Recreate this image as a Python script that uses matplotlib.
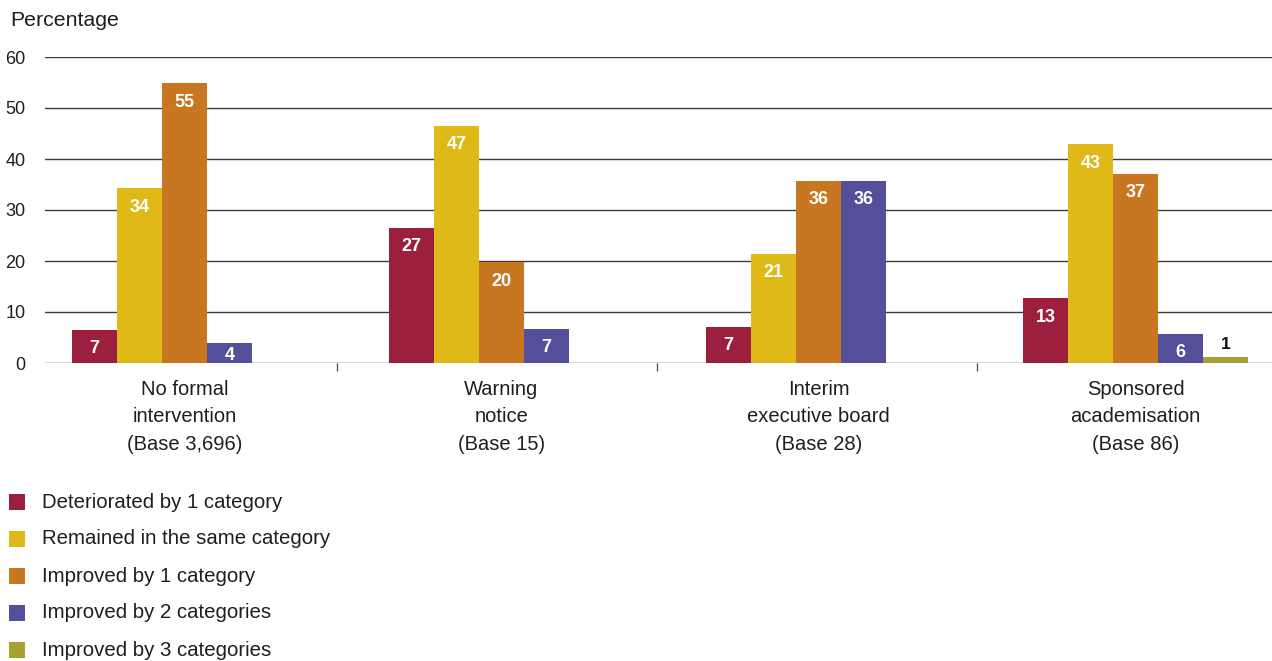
import matplotlib
matplotlib.use("Agg")
import matplotlib.pyplot as plt
from matplotlib.patches import Rectangle
import numpy as np

plt.rcParams['font.family'] = ['Liberation Sans', 'DejaVu Sans']

categories = ["No formal\nintervention\n(Base 3,696)",
              "Warning\nnotice\n(Base 15)",
              "Interim\nexecutive board\n(Base 28)",
              "Sponsored\nacademisation\n(Base 86)"]
series_names = ["Deteriorated by 1 category",
                "Remained in the same category",
                "Improved by 1 category",
                "Improved by 2 categories",
                "Improved by 3 categories"]
deteriorated = [6.5, 26.5, 7.1, 12.7]
remained = [34.3, 46.5, 21.4, 42.9]
improved1 = [54.9, 19.8, 35.7, 37.1]
improved2 = [3.9, 6.7, 35.7, 5.7]
improved3 = [None, None, None, 1.2]
labels_det = ["7", "27", "7", "13"]
labels_rem = ["34", "47", "21", "43"]
labels_imp1 = ["55", "20", "36", "37"]
labels_imp2 = ["4", "7", "36", "6"]
labels_imp3 = [None, None, None, "1"]
colors = ["#9C1F3E", "#DFB917", "#C8761F", "#544F9A", "#A9A033"]

series = [deteriorated, remained, improved1, improved2, improved3]
series_labels = [labels_det, labels_rem, labels_imp1, labels_imp2, labels_imp3]

W, H = 1272, 661
fig = plt.figure(figsize=(W / 100, H / 100), dpi=100)
ax = fig.add_axes([45 / W, 1 - 363 / H, 1227 / W, (363 - 57) / H])

x = np.arange(len(categories))
bw = 0.142
txt = "#1e1e1e"
px_per_unit = (363 - 57) / 60.0

for i, (vals, labs, col) in enumerate(zip(series, series_labels, colors)):
    offs = (i - 2) * bw
    for j, (v, lab) in enumerate(zip(vals, labs)):
        if v is None:
            continue
        ax.bar(x[j] + offs, v, width=bw, color=col, zorder=3, linewidth=0)
        if i == 4:
            ax.text(x[j] + offs, v + 12 / px_per_unit, lab, ha='center', va='center',
                    color='#111111', fontsize=12.5, fontweight='bold', zorder=4)
        else:
            ly = max(v - 19 / px_per_unit, 7 / px_per_unit)
            ax.text(x[j] + offs, ly, lab, ha='center', va='center',
                    color='white', fontsize=13, fontweight='bold', zorder=4)

x0 = (45 - 184.5) / 317.0
ax.set_xlim(x0, x0 + 1227 / 317.0)
ax.set_ylim(0, 60)
ax.set_yticks([0, 10, 20, 30, 40, 50, 60])
ax.yaxis.grid(True, color='#3a3a3a', linewidth=1.0, zorder=1)
for s in ax.spines.values():
    s.set_visible(False)
ax.tick_params(axis='y', length=0, pad=14, labelsize=13, labelcolor=txt)
ax.set_xticks(x)
ax.set_xticklabels(categories, fontsize=14.5, color=txt, linespacing=1.58)
ax.tick_params(axis='x', which='major', length=0, pad=12)
ax.set_xticks([0.48, 1.49, 2.5], minor=True)
ax.tick_params(axis='x', which='minor', length=6, width=1, color='#555555', direction='out')

fig.text(10 / W, 1 - 21 / H, "Percentage", fontsize=15.3, color=txt, va='center', ha='left')

# legend
for k, (name, col) in enumerate(zip(series_names, colors)):
    yc = 502 + 37 * k
    fig.patches.append(Rectangle((9 / W, 1 - (yc + 8) / H), 16 / W, 16 / H,
                                 transform=fig.transFigure, facecolor=col, edgecolor='none'))
    fig.text(42 / W, 1 - yc / H, name, fontsize=14.7, color=txt, va='center', ha='left')

fig.savefig("out.png", dpi=100)
